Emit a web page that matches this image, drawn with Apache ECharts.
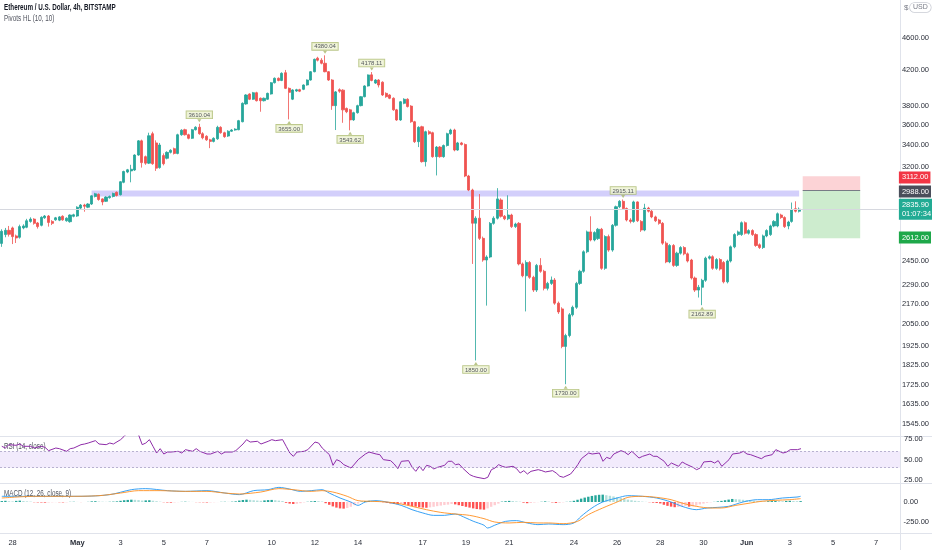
<!DOCTYPE html>
<html><head><meta charset="utf-8">
<script src="https://cdn.jsdelivr.net/npm/echarts@6/dist/echarts.min.js"></script>
<style>html,body{margin:0;padding:0;background:#fff}#c{width:932px;height:550px}</style>
</head><body><div id="c"></div>
<script>
// ---------------- DATA ----------------
// 4h candles, ETH/USD Bitstamp, first bar = Apr 27 12:00 (bar index -3 relative to Apr 28 00:00)
const firstBar = -3;
// [open, close, low, high]
const candles = [
[2575,2665,2550,2680],[2640,2672,2620,2690],[2672,2642,2625,2705],
[2690,2625,2570,2700],[2630,2615,2578,2640],[2620,2700,2610,2715],[2690,2705,2680,2718],[2695,2745,2688,2760],[2740,2758,2730,2772],
[2758,2725,2715,2765],[2728,2700,2685,2735],[2710,2772,2702,2780],[2768,2782,2760,2790],[2782,2732,2700,2790],[2740,2725,2712,2750],
[2752,2768,2745,2775],[2750,2775,2742,2782],[2780,2752,2745,2788],[2745,2765,2738,2772],[2738,2790,2730,2795],[2780,2792,2772,2800],
[2782,2852,2775,2860],[2845,2870,2838,2878],[2870,2860,2816,2880],[2852,2878,2845,2885],[2878,2945,2870,2950],[2940,2962,2932,2970],
[2958,2915,2905,2965],[2920,2895,2868,2925],[2900,2935,2895,2942],[2930,2940,2922,2948],[2940,2965,2932,2972],[2975,2948,2940,2982],
[2955,3065,2948,3070],[3060,3155,3052,3162],[3150,3170,3140,3178],[3160,3175,3060,3215],[3168,3305,3160,3312],[3305,3440,3298,3448],
[3440,3235,3190,3452],[3290,3230,3215,3300],[3230,3490,3222,3520],[3510,3225,3215,3530],[3420,3185,3160,3445],[3190,3400,3180,3420],
[3300,3225,3210,3320],[3275,3330,3265,3340],[3330,3350,3320,3360],[3365,3320,3310,3375],[3320,3500,3312,3510],[3500,3545,3490,3555],
[3550,3500,3492,3560],[3500,3465,3455,3510],[3465,3550,3458,3558],[3550,3575,3542,3585],[3575,3510,3500,3610.04],[3510,3470,3455,3525],
[3485,3450,3440,3495],[3450,3435,3370,3460],[3435,3465,3425,3475],[3460,3574,3450,3590],[3574,3520,3510,3585],[3520,3481,3470,3530],
[3487,3535,3478,3545],[3535,3547,3528,3556],[3547,3556,3540,3565],[3550,3642,3545,3650],[3631,3825,3625,3835],[3818,3916,3810,3925],
[3927,3869,3860,3935],[3869,3941,3862,3950],[3941,3853,3845,3952],[3880,3853,3735,3888],[3853,3880,3845,3888],[3869,3934,3862,3942],
[3927,4054,3920,4062],[4054,4105,4045,4115],[4105,4080,4070,4115],[4080,4163,4072,4175],[4170,3990,3982,4203],[3990,3945,3655,4000],
[3870,3972,3860,3980],[3960,3975,3950,3985],[3975,3958,3948,3985],[3979,4028,3970,4035],[4028,4085,4020,4092],[4085,4182,4078,4190],
[4182,4331,4175,4340],[4345,4320,4305,4362],[4320,4283,4270,4345],[4283,4182,4175,4380.04],[4182,4085,4075,4190],[4085,3800,3755,4095],
[3800,3950,3547,3960],[3975,3958,3940,3990],[3970,3755,3620,3980],[3770,3735,3720,3780],[3755,3650,3543.62,3765],[3650,3725,3640,3735],
[3725,3800,3715,3810],[3800,3897,3792,3905],[3897,4017,3890,4025],[4017,4144,4010,4150],[4145,4080,4070,4178.11],[4050,4085,4040,4095],
[4085,4028,4000,4095],[4060,3916,3905,4070],[3934,3897,3885,3945],[3916,3880,3870,3925],[3880,3755,3745,3890],[3755,3649,3640,3765],
[3649,3842,3640,3850],[3825,3869,3815,3880],[3869,3790,3780,3880],[3795,3631,3620,3805],[3631,3432,3420,3640],[3432,3574,3380,3585],
[3580,3244,3235,3590],[3244,3530,3200,3540],[3530,3510,3500,3545],[3520,3290,3280,3530],[3290,3380,3120,3390],[3380,3290,3280,3390],
[3290,3395,3280,3405],[3395,3510,3385,3520],[3510,3547,3500,3560],[3547,3352,3340,3560],[3352,3420,3345,3430],[3420,3405,3395,3430],
[3405,3115,3105,3415],[3115,2994,2985,3125],[2994,2726,2430,3005],[2726,2765,1850.00,2780],[2765,2612,2600,2960],[2612,2457,2445,2625],
[2457,2478,2160,2490],[2478,2725,2470,2735],[2725,2765,2715,2780],[2765,2920,2755,3010],[2911,2780,2770,2925],[2780,2760,2750,2790],
[2760,2790,2750,2950],[2790,2700,2690,2800],[2700,2720,2690,2730],[2725,2430,2420,2735],[2430,2350,2340,2440],[2350,2440,2125,2455],
[2440,2340,2330,2450],[2340,2257,2245,2350],[2257,2420,2245,2430],[2420,2380,2370,2470],[2380,2268,2255,2390],[2268,2300,2255,2310],
[2300,2322,2290,2345],[2322,2175,2165,2335],[2175,2122,2110,2185],[2140,1925,1915,2150],[1925,1985,1730.00,1995],[1985,2105,1975,2115],
[2105,2150,2095,2160],[2150,2300,2140,2310],[2300,2380,2290,2390],[2380,2515,2370,2525],[2515,2660,2505,2670],[2660,2600,2590,2780],
[2600,2655,2590,2665],[2610,2680,2600,2690],[2680,2400,2390,2690],[2400,2625,2390,2635],[2625,2527,2515,2640],[2527,2710,2515,2720],
[2710,2856,2700,2865],[2856,2900,2845,2910],[2900,2842,2830,2915.11],[2842,2751,2740,2850],[2751,2740,2725,2765],[2740,2895,2730,2905],
[2895,2745,2735,2900],[2740,2674,2660,2750],[2674,2845,2665,2880],[2845,2820,2810,2855],[2820,2775,2765,2830],[2775,2745,2735,2785],
[2751,2725,2715,2760],[2725,2577,2565,2735],[2577,2444,2435,2590],[2444,2560,2435,2570],[2560,2420,2410,2570],[2420,2505,2410,2515],
[2505,2545,2495,2555],[2545,2500,2490,2555],[2500,2450,2440,2510],[2457,2335,2325,2465],[2335,2257,2245,2345],[2257,2275,2210,2290],
[2275,2320,2162.89,2330],[2320,2470,2310,2480],[2470,2480,2460,2490],[2480,2400,2390,2490],[2400,2460,2390,2470],[2460,2395,2385,2470],
[2440,2310,2300,2450],[2310,2450,2300,2460],[2450,2550,2440,2560],[2550,2640,2540,2650],[2640,2660,2630,2670],[2640,2730,2630,2740],
[2730,2650,2640,2740],[2650,2670,2640,2680],[2670,2640,2630,2680],[2640,2560,2550,2650],[2565,2545,2535,2575],[2545,2630,2535,2640],
[2630,2670,2620,2680],[2640,2705,2630,2715],[2705,2740,2695,2750],[2705,2800,2695,2810],[2790,2770,2760,2800],[2770,2700,2690,2780],
[2705,2735,2680,2745],[2740,2830,2730,2890],[2840,2820,2810,2900],[2820,2835.90,2810,2850]
];

// x axis day labels (days after Apr 28)
const dayLabels  = ['28','May','3','5','7','10','12','14','17','19','21','24','26','28','30','Jun','3','5','7'];
const dayOffsets = [0,3,5,7,9,12,14,16,19,21,23,26,28,30,32,34,36,38,40];
const monthLabels = ['May','Jun'];

// price axis tick labels
const priceTicks = [4600,4200,3800,3600,3400,3200,2450,2290,2170,2050,1925,1825,1725,1635,1545];
const rsiTicks = [25,50,75];
const macdTicks = [-250,0];

// Pivots HL (10,10): [bar index, price]
const pivotHighs = [[52,3610.04],[87,4380.04],[100,4178.11],[170,2915.11]];
const pivotLows  = [[77,3655.00],[94,3543.62],[129,1850.00],[154,1730.00],[192,2162.89]];

// horizontal zone and position tool
const zoneLow = 2940, zoneHigh = 2990, zoneStartBar = 22, zoneEndBar = 219;
const lastPrice = 2835.90, countdown = '01:07:34';
const stopPrice = 3112.00, entryPrice = 2988.00, targetPrice = 2612.00;
const boxStartBar = 220, boxEndBar = 236;

// RSI(14): [bar index, value]
const rsiPoints = [
[-3,66.1],[-2,64.0],[-1,68.1],[1,67.3],[2,68.9],[3,66.1],[5,66.1],[6,64.0],[8,66.1],[9,64.8],[10,60.8],[12,64.0],[13,63.2],[15,60.0],
[16,63.2],[17,64.0],[19,68.1],[20,68.9],[21,70.1],[23,73.0],[24,68.9],[26,68.1],[27,70.1],[28,68.9],[30,74.2],[31,78.3],[32,83],[33,86],
[34,87],[35,80],[36,68.1],[37,70.1],[38,74.2],[39,66.1],[40,57.9],[41,63.2],[42,56.7],[43,59.1],[44,59.1],[46,60.0],[47,57.9],[48,62.0],
[50,60.0],[51,63.2],[52,60.0],[54,56.7],[55,56.7],[57,60.0],[58,56.7],[59,59.1],[61,59.1],[62,60.8],[64,68.9],[65,74.2],[66,71.3],
[68,72.2],[69,68.9],[71,72.2],[72,74.2],[73,73.0],[75,74.2],[76,66.1],[77,57.9],[78,53.9],[79,59.1],[81,60.0],[82,62.0],[84,71.3],
[85,70.1],[86,64.0],[88,55.9],[89,42.9],[90,49.8],[91,47.8],[92,43.7],[94,39.6],[95,44.5],[96,49.8],[98,56.7],[99,59.1],[101,56.7],
[102,55.9],[103,49.8],[105,48.6],[106,44.5],[107,38.8],[108,47.8],[110,48.6],[111,40.4],[112,35.6],[113,41.7],[114,36.4],[115,42.9],
[116,41.7],[117,38.5],[118,40.4],[120,42.9],[121,47.8],[122,47.8],[123,43.7],[124,44.5],[125,39.6],[127,31.5],[128,29.5],[129,28.3],
[131,26.6],[132,28.3],[133,37.6],[134,39.6],[135,43.7],[136,41.7],[137,40.4],[139,41.7],[140,38.8],[141,33.5],[142,36.4],[143,32.3],
[144,35.6],[146,37.6],[147,36.4],[148,34.8],[150,36.4],[151,33.5],[152,29.5],[153,28.3],[155,32.3],[156,37.6],[157,43.7],[158,51.0],
[160,57.9],[161,56.7],[163,57.9],[164,47.8],[165,52.6],[166,51.0],[167,56.7],[169,60.8],[170,59.1],[171,55.9],[172,60.0],[174,51.8],
[175,53.9],[177,56.7],[178,53.9],[179,53.9],[181,47.8],[182,41.7],[183,45.7],[185,41.7],[186,47.0],[187,44.5],[189,40.4],[190,37.6],
[191,39.6],[192,47.0],[194,47.8],[195,45.7],[196,48.6],[197,41.7],[199,49.8],[200,56.7],[202,57.9],[203,60.0],[204,56.7],[205,55.9],
[207,52.6],[208,51.0],[209,53.9],[211,55.9],[212,62.0],[214,57.9],[215,59.1],[216,62.0],[218,62.0],[219,63.2]
];
const rsiBandHigh = 60, rsiBandLow = 40;

// MACD(12,26,9): [bar index, value]
const macdLine = [
[-3,71],[2,71],[10,71],[19,71],[27,92],[33,154],[37,167],[43,142],[48,133],[54,142],[59,112],[63,92],[67,142],[71,154],[74,183],
[77,162],[80,133],[83,142],[86,154],[88,112],[91,50],[94,0],[96,-42],[98,0],[101,17],[104,0],[108,-42],[111,-96],[114,-137],[117,-167],
[120,-167],[123,-150],[126,-200],[128,-240],[131,-290],[132,-325],[134,-290],[137,-242],[140,-233],[143,-262],[146,-283],[149,-275],
[153,-283],[156,-262],[158,-179],[161,-75],[164,0],[168,50],[171,79],[175,71],[179,50],[183,0],[186,-54],[190,-96],[193,-75],
[196,-67],[199,-54],[203,0],[207,29],[210,29],[214,50],[218,62],[219,71]
];
const signalLine = [
[-3,50],[6,71],[15,71],[24,79],[30,112],[35,142],[41,142],[48,133],[54,133],[59,112],[63,100],[69,125],[74,167],[78,154],[83,133],
[86,142],[89,125],[93,71],[96,17],[100,8],[104,0],[108,-25],[111,-54],[115,-96],[119,-130],[123,-150],[127,-167],[131,-208],[134,-250],
[138,-262],[142,-254],[146,-262],[149,-262],[153,-271],[157,-242],[160,-158],[164,-75],[168,0],[171,58],[175,71],[179,58],[183,29],
[186,-13],[190,-54],[194,-75],[197,-75],[201,-42],[205,-13],[208,8],[212,21],[216,29],[219,42]
];
// histogram, one value per bar from bar -3 to bar 219
const macdHist = [
12,15,10,8,14,17,12,8,5,
-3,-5,-6,-8,-6,-4,-2,-3,-5,-4,
2,3,1,-1,0,2, 8,10, 6,4,2,3,5,8,
15,22,26,29,27,24, 18,20,22,16,10, 4,-3,-6,-8,-5,-2,
2,4,3,1,-2,-3,-4,-6,-5,-3,-1,2,3,2,4,8,
18,25,29,27,22,18, 15,20,24,26,22,17,12, -10,-20,-25,-22,-15, -5,3,8,12,10,6,
-15,-35,-55,-70,-80,-83,-75,-60, -40,-20,5,12,15,12, 8,4,-3,-10,-18, -25,-28,-22,-30,-40,
-50,-58,-65,-70,-72, -67,-60,-52,-45,-38,-33, -25,-30,-40, -50,-60,-70,-80,-88,-93,-96,
-80,-60,-40,-20, 5,10,14,12,8,4, -8,-15,-12,-6, -2,3,8,5, -5,-12,-10, -4,2,5,
15,28,42,55,66,76,84,90,92, 85,78,70,60, 50,40,30,22,15,10,5, 2,-3,-8,-12,-18,
-35,-48,-58,-65,-62, -55,-50,-58,-55, -45,-30,-20,-10, -4,2,8,14, 22,30,38,35,32,
28,24,20,16,12,10, 8,10,12,14,12,10,13,15,12,10,11
];

// ---------------- LAYOUT / STYLE ----------------
const FONT = '"Liberation Sans",Arial,sans-serif';
const W = 932, PLOT_W = 900, N_CATS = 250;
const MAIN = {top: 0, h: 436}, RSI = {top: 436, h: 47}, MACD = {top: 483, h: 50};
const priceAxisMin = 1494.6, priceAxisMax = 5121;
const rsiAxis = [21.34, 78.66], macdAxis = [-387.5, 237.5];
const UP = '#26a69a', DOWN = '#ef5350', SEP = '#e0e3eb', TXT = '#2a2e39';
const CLEAR = 'rgba(0,0,0,0)';

const L = Math.log;
const k = i => i - firstBar;
const cats = Array.from({length: N_CATS}, (_, j) => String(j));
const dayK = dayOffsets.map(d => k(d * 6));
const dayMap = {}; dayK.forEach((kk, n) => dayMap[kk] = dayLabels[n]);

function histColor(v, prev) {
  if (v >= 0) return v >= prev ? '#26a69a' : '#b2dfdb';
  return v <= prev ? '#ff5252' : '#ffcdd2';
}

const axisLabelBase = {fontFamily: FONT, fontSize: 7.5, color: TXT};
const priceTag = (bg, txt) => ({
  show: true, position: 'end', distance: 1, formatter: txt,
  backgroundColor: bg, color: '#fff', fontFamily: FONT, fontSize: 7.5,
  padding: [2, 2, 1, 3], lineHeight: 9, align: 'left'
});
const pivotLabel = {
  show: true, fontFamily: FONT, fontSize: 6, color: TXT,
  backgroundColor: '#edf3d3', borderColor: '#a9b86a', borderWidth: 0.8,
  padding: [1, 2, 0, 2], distance: 1
};
const legendText = (txt, x, y, size, weight, fill, sx) => ({
  type: 'text', x: x, y: y, scaleX: sx, silent: true,
  style: {text: txt, fontFamily: FONT, fontSize: size, fontWeight: weight, fill: fill}
});

const chart = echarts.init(document.getElementById('c'), null, {renderer: 'canvas'});
chart.setOption({
  animation: false,
  backgroundColor: '#ffffff',
  grid: [
    {left: 0, width: PLOT_W, top: MAIN.top, height: MAIN.h},
    {left: 0, width: PLOT_W, top: RSI.top, height: RSI.h},
    {left: 0, width: PLOT_W, top: MACD.top, height: MACD.h}
  ],
  xAxis: [
    {type: 'category', gridIndex: 0, data: cats, boundaryGap: true, show: false},
    {type: 'value', gridIndex: 1, min: -0.5, max: N_CATS - 0.5, show: false},
    {type: 'value', gridIndex: 2, min: -0.5, max: N_CATS - 0.5,
      axisLine: {show: false}, axisTick: {show: false}, splitLine: {show: false},
      axisLabel: Object.assign({}, axisLabelBase, {
        customValues: dayK, margin: 6,
        formatter: v => {
          const t = dayMap[Math.round(v)] || '';
          return monthLabels.includes(t) ? '{b|' + t + '}' : t;
        },
        rich: {b: {fontFamily: FONT, fontSize: 7.5, fontWeight: 'bold', color: TXT}}
      })}
  ],
  yAxis: [
    {type: 'value', gridIndex: 0, position: 'right', min: L(priceAxisMin), max: L(priceAxisMax),
      axisLine: {show: false}, axisTick: {show: false}, splitLine: {show: false},
      axisLabel: Object.assign({}, axisLabelBase, {customValues: priceTicks.map(L), margin: 4,
        formatter: v => Math.exp(v).toFixed(2)})},
    {type: 'value', gridIndex: 1, position: 'right', min: rsiAxis[0], max: rsiAxis[1],
      axisLine: {show: false}, axisTick: {show: false}, splitLine: {show: false},
      axisLabel: Object.assign({}, axisLabelBase, {customValues: rsiTicks, margin: 4, formatter: v => v.toFixed(2)})},
    {type: 'value', gridIndex: 2, position: 'right', min: macdAxis[0], max: macdAxis[1],
      axisLine: {show: false}, axisTick: {show: false}, splitLine: {show: false},
      axisLabel: Object.assign({}, axisLabelBase, {customValues: macdTicks, margin: 4, formatter: v => v.toFixed(2)})}
  ],
  series: [
    // zone, position tool, price lines (drawn under candles)
    {type: 'line', xAxisIndex: 0, yAxisIndex: 0, data: [], silent: true, z: 1,
      markArea: {silent: true, data: [
        [{xAxis: k(zoneStartBar), yAxis: L(zoneHigh), itemStyle: {color: 'rgba(150,140,245,0.42)'}},
         {xAxis: k(zoneEndBar), yAxis: L(zoneLow)}],
        [{xAxis: k(boxStartBar), yAxis: L(stopPrice), itemStyle: {color: 'rgba(242,54,69,0.22)'}},
         {xAxis: k(boxEndBar), yAxis: L(entryPrice)}],
        [{xAxis: k(boxStartBar), yAxis: L(entryPrice), itemStyle: {color: 'rgba(76,185,80,0.28)'}},
         {xAxis: k(boxEndBar), yAxis: L(targetPrice)}]
      ]},
      markLine: {silent: true, symbol: 'none', data: [
        {yAxis: L(lastPrice), lineStyle: {color: '#d6d8df', width: 1, type: 'solid'},
          label: priceTag('#22ab94', lastPrice.toFixed(2) + '\n' + countdown)},
        {yAxis: L(stopPrice), lineStyle: {color: CLEAR}, label: priceTag('#f23645', stopPrice.toFixed(2))},
        {yAxis: L(entryPrice), lineStyle: {color: CLEAR}, label: priceTag('#4a4e5a', entryPrice.toFixed(2))},
        {yAxis: L(targetPrice), lineStyle: {color: CLEAR}, label: priceTag('#1ea84a', targetPrice.toFixed(2))},
        [{coord: [k(boxStartBar), L(entryPrice)], lineStyle: {color: '#787b86', width: 1, type: 'solid'}, label: {show: false}},
         {coord: [k(boxEndBar), L(entryPrice)]}]
      ]}
    },
    {type: 'candlestick', xAxisIndex: 0, yAxisIndex: 0, z: 3,
      data: candles.map(c => c.map(L)), barWidth: 2.6,
      itemStyle: {color: UP, color0: DOWN, borderColor: UP, borderColor0: DOWN, borderWidth: 0.8}},
    {type: 'scatter', xAxisIndex: 0, yAxisIndex: 0, z: 4,
      data: pivotHighs.map(([i, p]) => ({value: [k(i), L(p)], label: {formatter: p.toFixed(2)}})),
      symbol: 'triangle', symbolSize: [4, 3], symbolRotate: 180, symbolOffset: [0, -3],
      itemStyle: {color: '#a9b86a'}, label: Object.assign({position: 'top'}, pivotLabel)},
    {type: 'scatter', xAxisIndex: 0, yAxisIndex: 0, z: 4,
      data: pivotLows.map(([i, p]) => ({value: [k(i), L(p)], label: {formatter: p.toFixed(2)}})),
      symbol: 'triangle', symbolSize: [4, 3], symbolOffset: [0, 3],
      itemStyle: {color: '#a9b86a'}, label: Object.assign({position: 'bottom'}, pivotLabel)},
    // RSI
    {type: 'line', xAxisIndex: 1, yAxisIndex: 1, data: rsiPoints.map(([i, v]) => [k(i), v]),
      showSymbol: false, clip: true, lineStyle: {color: '#8e2ca8', width: 1}, z: 3,
      markArea: {silent: true, itemStyle: {color: 'rgba(156,100,230,0.13)'},
        data: [[{yAxis: rsiBandHigh}, {yAxis: rsiBandLow}]]},
      markLine: {silent: true, symbol: 'none', label: {show: false},
        lineStyle: {color: '#a9a3c4', width: 0.8, type: [2, 2]},
        data: [{yAxis: rsiBandHigh}, {yAxis: rsiBandLow}]}},
    // MACD
    {type: 'bar', xAxisIndex: 2, yAxisIndex: 2, barWidth: 2.4,
      data: macdHist.map((v, j) => ({value: [j, v], itemStyle: {color: histColor(v, j ? macdHist[j - 1] : 0)}}))},
    {type: 'line', xAxisIndex: 2, yAxisIndex: 2, data: macdLine.map(([i, v]) => [k(i), v]),
      showSymbol: false, smooth: 0.3, lineStyle: {color: '#2196f3', width: 0.9}, z: 3},
    {type: 'line', xAxisIndex: 2, yAxisIndex: 2, data: signalLine.map(([i, v]) => [k(i), v]),
      showSymbol: false, smooth: 0.3, lineStyle: {color: '#ff8f1f', width: 0.9}, z: 3}
  ],
  graphic: [
    {type: 'line', shape: {x1: 0, y1: RSI.top + 0.5, x2: W, y2: RSI.top + 0.5}, style: {stroke: SEP, lineWidth: 1}, silent: true},
    {type: 'line', shape: {x1: 0, y1: MACD.top + 0.5, x2: W, y2: MACD.top + 0.5}, style: {stroke: SEP, lineWidth: 1}, silent: true},
    {type: 'line', shape: {x1: 0, y1: MACD.top + MACD.h + 0.5, x2: W, y2: MACD.top + MACD.h + 0.5}, style: {stroke: SEP, lineWidth: 1}, silent: true},
    {type: 'line', shape: {x1: PLOT_W + 0.5, y1: 0, x2: PLOT_W + 0.5, y2: 550}, style: {stroke: SEP, lineWidth: 1}, silent: true},
    legendText('Ethereum / U.S. Dollar, 4h, BITSTAMP', 4, 3, 8.5, 'bold', '#131722', 0.74),
    legendText('Pivots HL (10, 10)', 4, 14, 8.5, 'normal', '#50535e', 0.74),
    legendText('RSI (14, close)', 4, 442, 8.5, 'normal', '#50535e', 0.74),
    legendText('MACD (12, 26, close, 9)', 4, 489, 8.5, 'normal', '#50535e', 0.74),
    {type: 'text', x: 904, y: 4, silent: true, style: {text: '$', fontFamily: FONT, fontSize: 8, fill: '#787b86'}},
    {type: 'text', x: 910, y: 3, silent: true, style: {text: 'USD', fontFamily: FONT, fontSize: 7, fill: '#787b86',
      backgroundColor: '#fff', borderColor: '#c9ccd4', borderWidth: 0.8, borderRadius: 5, padding: [1, 3]}}
  ]
});
</script>
</body></html>
